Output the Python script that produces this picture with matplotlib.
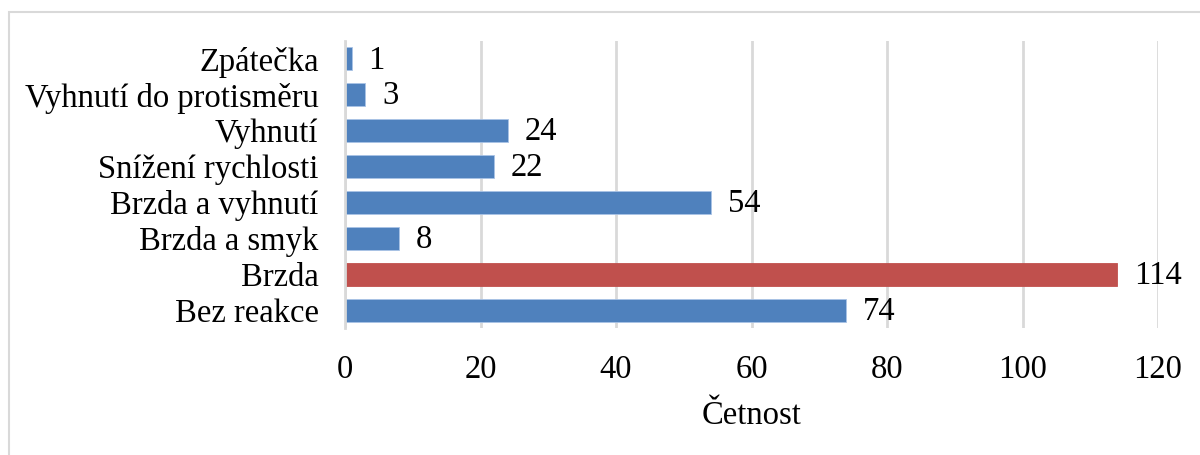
import matplotlib
matplotlib.use("Agg")
import matplotlib.pyplot as plt
from matplotlib.patches import Rectangle

categories = ["Bez reakce", "Brzda", "Brzda a smyk", "Brzda a vyhnutí",
              "Snížení rychlosti", "Vyhnutí", "Vyhnutí do protisměru", "Zpátečka"]
counts = [74, 114, 8, 54, 22, 24, 3, 1]
highlight = "Brzda"
x_ticks = [0, 20, 40, 60, 80, 100, 120]

plt.rcParams['font.family'] = ['Liberation Serif', 'DejaVu Serif']

fig = plt.figure(figsize=(12, 4.55), dpi=100)
ax = fig.add_axes([0.2875, 0.2791, 0.965 - 0.2875, 0.9099 - 0.2791])

# light frame around the chart area, as in the source
fig.patches.append(Rectangle((9 / 1200, -0.05), 1.1, 1.05 - 12 / 455,
                             transform=fig.transFigure, fill=False,
                             edgecolor="#d9d9d9", linewidth=1.5))

colors = ["#c0504d" if c == highlight else "#4f81bd" for c in categories]
bars = ax.barh(categories, counts, height=0.64, color=colors,
               edgecolor="#a9c3e6", linewidth=0.6)
for b, c in zip(bars, categories):
    if c == highlight:
        b.set_edgecolor("#c0504d")

for b, v in zip(bars, counts):
    ax.annotate(str(v), (b.get_width(), b.get_y() + b.get_height() / 2),
                xytext=(12, -1), textcoords="offset points",
                va="center", ha="left", fontsize=23.5)

ax.set_xlim(0, 120)
ax.set_ylim(-0.5, len(categories) - 0.5)
ax.set_xticks(x_ticks)
ax.tick_params(axis="both", length=0, labelsize=23.5)
ax.tick_params(axis="y", pad=19)
ax.tick_params(axis="x", pad=19)
ax.grid(axis="x", color="#d9d9d9", linewidth=2)
ax.set_axisbelow(True)
for s in ["top", "right", "bottom"]:
    ax.spines[s].set_visible(False)
ax.spines["left"].set_color("#d9d9d9")
ax.spines["left"].set_linewidth(2)
ax.set_xlabel("Četnost", fontsize=23.5, labelpad=11)

fig.savefig("out.png", dpi=100)
